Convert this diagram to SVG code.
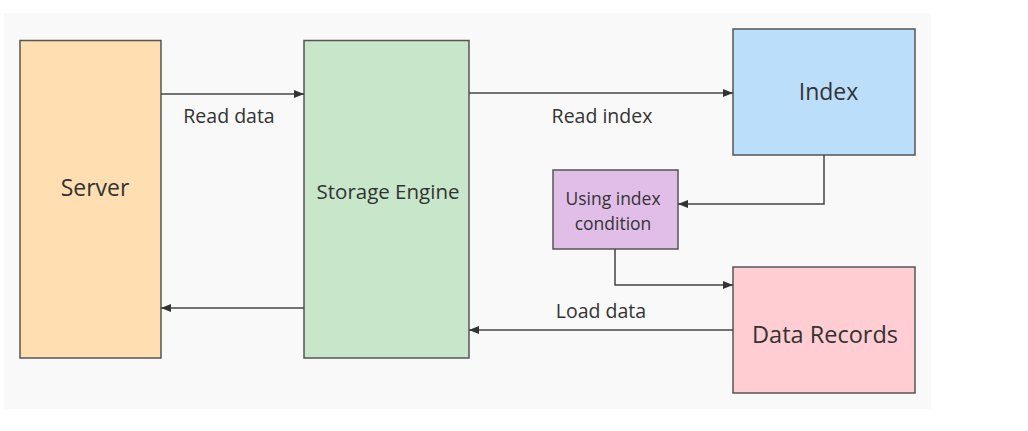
<svg xmlns="http://www.w3.org/2000/svg" width="1028" height="431" viewBox="0 0 1028 431">
<style>
.box{stroke:#555;stroke-width:1.5}
.t{font-family:"Open Sans","Noto Sans",sans-serif;fill:#333;text-anchor:middle}
.c{fill:none;stroke:#444;stroke-width:1.5}
</style>
<defs>
<marker id="ah" viewBox="0 0 10 8" refX="10" refY="4" markerWidth="10" markerHeight="8" markerUnits="userSpaceOnUse" orient="auto">
<path d="M0,0 L10,4 L0,8 Z" fill="#333"/>
</marker>
</defs>
<rect x="0" y="0" width="1028" height="431" fill="#fff"/>
<rect x="4" y="13" width="927" height="396" fill="#f9f9f9"/>
<g id="server">
<rect class="box" x="20" y="40.5" width="141" height="317.5" fill="#ffdfb2"/>
<text class="t" x="95" y="196" font-size="23">Server</text>
</g>
<g id="storage-engine">
<rect class="box" x="304" y="40.5" width="165" height="317.5" fill="#c8e6c9"/>
<text class="t" x="388" y="199" font-size="20.5">Storage Engine</text>
</g>
<g id="index">
<rect class="box" x="733" y="29" width="182" height="126" fill="#bbdefb"/>
<text class="t" x="828.5" y="100" font-size="23">Index</text>
</g>
<g id="using-index-condition">
<rect class="box" x="553" y="170" width="125" height="79" fill="#e1bee7"/>
<text class="t" x="613" y="205" font-size="17.5">Using index</text>
<text class="t" x="613" y="229.5" font-size="17.5">condition</text>
</g>
<g id="data-records">
<rect class="box" x="733" y="267" width="182" height="126" fill="#ffcdd2"/>
<text class="t" x="825" y="343" font-size="23.5">Data Records</text>
</g>
<g id="connectors">
<path class="c" d="M161,94 H304" marker-end="url(#ah)"/>
<text class="t" x="229" y="123" font-size="19.5">Read data</text>
<path class="c" d="M469,93 H733" marker-end="url(#ah)"/>
<text class="t" x="602" y="123" font-size="19.5">Read index</text>
<path class="c" d="M824,155 V204 H678" marker-end="url(#ah)"/>
<path class="c" d="M615,249 V285 H733" marker-end="url(#ah)"/>
<path class="c" d="M733,330 H469" marker-end="url(#ah)"/>
<text class="t" x="601" y="318" font-size="19.5">Load data</text>
<path class="c" d="M304,308 H161" marker-end="url(#ah)"/>
</g>
</svg>
